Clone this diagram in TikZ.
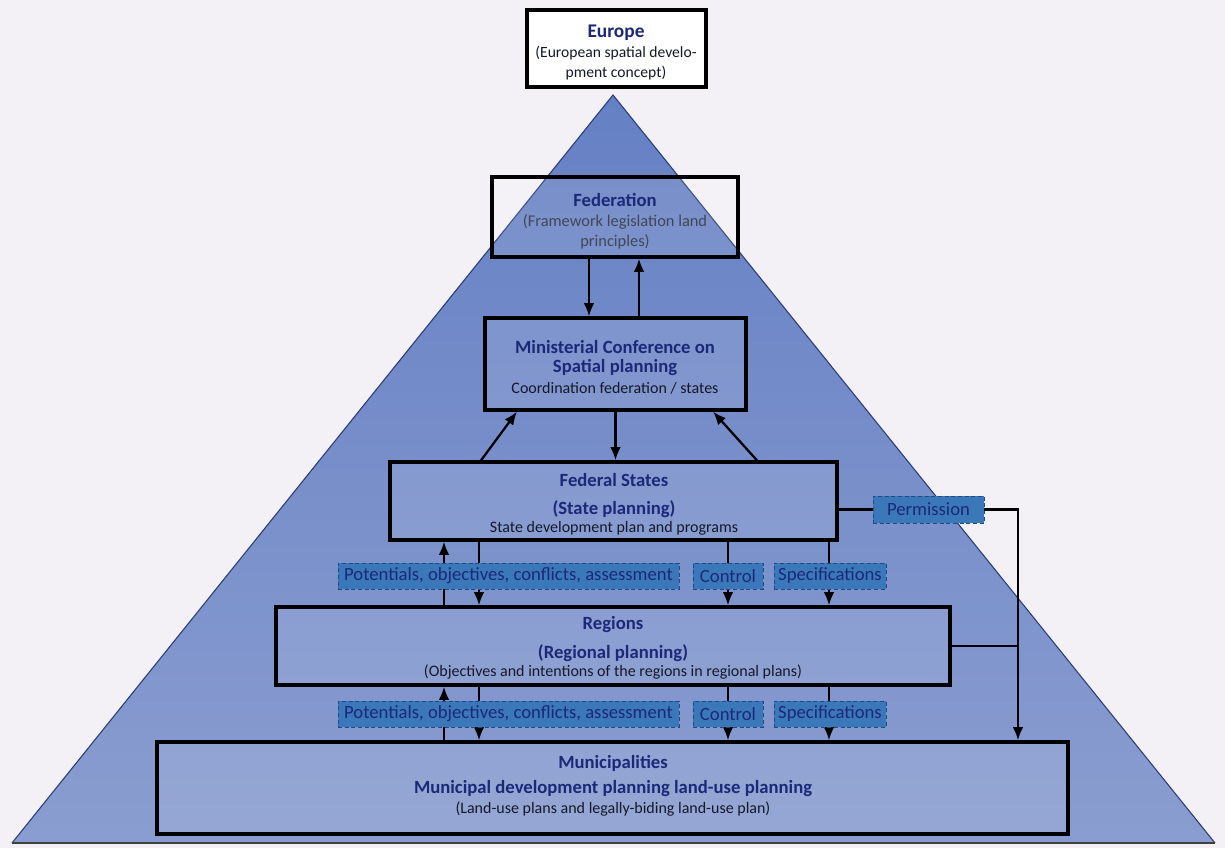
\documentclass[tikz,border=0pt]{standalone}
\usepackage{fontspec}
\setmainfont{Carlito}
\usetikzlibrary{arrows.meta}
\definecolor{bg}{HTML}{F3F1F5}
\definecolor{pyrtop}{HTML}{6580C4}
\definecolor{pyrbot}{HTML}{8A9DD0}
\definecolor{pyredge}{HTML}{2B3C78}
\definecolor{navy}{HTML}{1C2878}
\definecolor{lbl}{HTML}{3B78BA}
\definecolor{lbledge}{HTML}{1F4A86}
\definecolor{ink}{HTML}{15182A}
\begin{document}
\begin{tikzpicture}[x=0.75pt,y=-0.75pt,
  box/.style={draw=black, line width=2.4pt, inner sep=0pt, fill=white, fill opacity=0.10},
  ebox/.style={draw=black, line width=2.4pt, inner sep=0pt, fill=white},
  title/.style={font=\fontsize{14}{16}\selectfont\bfseries, text=navy, inner sep=0pt},
  sub/.style={font=\fontsize{12}{14}\selectfont, text=ink, inner sep=0pt},
  lab/.style={draw=lbledge, densely dashed, line width=0.7pt, fill=lbl, text=navy,
    font=\fontsize{14}{16}\selectfont, inner sep=0pt, minimum height=19.5pt},
  arr/.style={line width=1.7pt, draw=black, -{Latex[length=10pt,width=8pt]}},
  ln/.style={line width=1.7pt, draw=black}]
\useasboundingbox (0,0) rectangle (1225,848);
\fill[bg] (0,0) rectangle (1225,848);
% pyramid
\shade[top color=pyrtop, bottom color=pyrbot] (613,95) -- (1215,843) -- (12,843) -- cycle;
\draw[pyredge, line width=0.8pt] (12,843) -- (613,95) -- (1215,843);
\draw[black!75, line width=1.5pt] (12,843) -- (1215,843);

% boxes
\node[ebox, minimum width=134.25pt, minimum height=57.75pt] (eu) at (616.5,48.5) {};
\node[box, minimum width=184.5pt, minimum height=60pt] (fed) at (615,217) {};
\node[box, minimum width=195.75pt, minimum height=69pt] (min) at (615.5,364) {};
\node[box, minimum width=335.25pt, minimum height=58.5pt] (fs) at (613.5,501) {};
\node[box, minimum width=505.5pt, minimum height=58.5pt] (reg) at (613,646) {};
\node[box, minimum width=683.25pt, minimum height=69pt] (mun) at (612.5,788) {};

% texts
\node[title, font=\fontsize{14.5}{16}\selectfont\bfseries] (euT) at (616,33) {Europe};
\node[sub, font=\fontsize{11.7}{13}\selectfont] (euS1) at (616,53) {(European spatial develo-};
\node[sub, font=\fontsize{11.7}{13}\selectfont] (euS2) at (616,73) {pment concept)};

\node[title] (fedT) at (615,200) {Federation};
\node[sub, text=ink!80, font=\fontsize{12.3}{14}\selectfont] (fedS1) at (615,222) {(Framework legislation land};
\node[sub, text=ink!80, font=\fontsize{12.3}{14}\selectfont] (fedS2) at (615,242) {principles)};

\node[title] (minT1) at (615,347) {Ministerial Conference on};
\node[title] (minT2) at (615,368) {Spatial planning};
\node[sub] (minS) at (615,388) {Coordination federation / states};

\node[title] (fsT1) at (614,480) {Federal States};
\node[title] (fsT2) at (614,509) {(State planning)};
\node[sub] (fsS) at (614,528) {State development plan and programs};

\node[title] (regT1) at (613,625) {Regions};
\node[title] (regT2) at (613,653) {(Regional planning)};
\node[sub] (regS) at (613,672) {(Objectives and intentions of the regions in regional plans)};

\node[title] (munT1) at (613,763) {Municipalities};
\node[title] (munT2) at (613,789) {Municipal development planning land-use planning};
\node[sub] (munS) at (613,809) {(Land-use plans and legally-biding land-use plan)};

% x positions of connectors
\coordinate (xe) at (589,0);
\coordinate (xf) at (639,0);
\coordinate (xg) at (481,0);
\coordinate (xh) at (517,0);
\coordinate (xi) at (757,0);
\coordinate (xj) at (713,0);
\coordinate (xa) at (444,0);
\coordinate (xb) at (479,0);
\coordinate (xc) at (728,0);
\coordinate (xd) at (829,0);
\coordinate (pc) at (1018,0);

% permission label
\node[lab, minimum width=83.25pt, minimum height=20.25pt] (perm) at (928.5,509.5) {Permission};

% connectors
\draw[arr] (fed.south -| xe) -- (min.north -| xe);
\draw[arr] (min.north -| xf) -- (fed.south -| xf);
\draw[arr] (min.south) -- (min.south |- fs.north);
\draw[arr] (fs.north -| xg) -- (min.south -| xh);
\draw[arr] (fs.north -| xi) -- (min.south -| xj);

\draw[arr] (reg.north -| xa) -- (fs.south -| xa);
\draw[arr] (fs.south -| xb) -- (reg.north -| xb);
\draw[arr] (fs.south -| xc) -- (reg.north -| xc);
\draw[arr] (fs.south -| xd) -- (reg.north -| xd);

\draw[arr] (mun.north -| xa) -- (reg.south -| xa);
\draw[arr] (reg.south -| xb) -- (mun.north -| xb);
\draw[arr] (reg.south -| xc) -- (mun.north -| xc);
\draw[arr] (reg.south -| xd) -- (mun.north -| xd);

\draw[ln] (fs.east |- perm.west) -- (perm.west);
\draw[arr] (perm.east) -| (mun.north -| pc);
\draw[ln] (reg.east) -- (reg.east -| pc);

% labels
\node[lab, minimum width=255.75pt] (pot1) at (508.5,576) {Potentials, objectives, conflicts, assessment};
\node[lab, minimum width=52.5pt] (ctl1) at (728,576) {Control};
\node[lab, minimum width=84pt] (spc1) at (830,576) {Specifications};
\node[lab, minimum width=255.75pt] (pot2) at (508.5,714) {Potentials, objectives, conflicts, assessment};
\node[lab, minimum width=52.5pt] (ctl2) at (728,714) {Control};
\node[lab, minimum width=84pt] (spc2) at (830,714) {Specifications};
\end{tikzpicture}
\end{document}
